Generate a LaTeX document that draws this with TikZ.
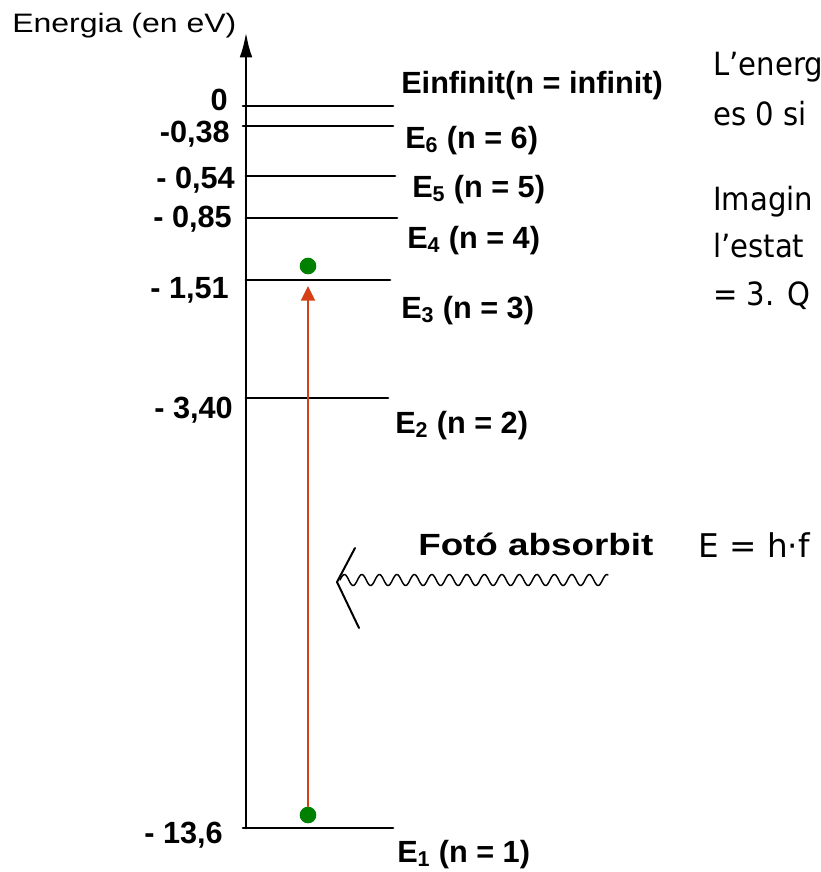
\documentclass[tikz,border=0pt]{standalone}
\usepackage{fontspec}
\setmainfont{Liberation Sans}
\newfontfamily\tahoma{DejaVu Sans}
\usetikzlibrary{arrows.meta}

\definecolor{salt}{RGB}{214,64,22}
\definecolor{electro}{RGB}{0,128,0}
\newcommand{\ample}[1]{\scalebox{1.2}[1]{#1}}
\newcommand{\estret}[1]{\scalebox{0.91}[1]{#1}}

\tikzset{
	nivell/.style={line width=2.2pt},
	valor/.style={font=\bfseries\fontsize{23}{27}\selectfont, anchor=base east, inner sep=0pt},
	estat/.style={font=\bfseries\fontsize{23}{27}\selectfont, anchor=base west, inner sep=0pt},
	frase/.style={font=\tahoma\fontsize{24}{28}\selectfont, anchor=base west, inner sep=0pt},
	punt/.style={circle, fill=electro, minimum size=12.5pt, inner sep=0pt}
}

\begin{document}
\begin{tikzpicture}[x=0.75pt, y=-0.75pt, line join=round, line cap=round]
	\useasboundingbox (0,0) rectangle (821,872);
	
	% Eix d'energia
	\coordinate (O) at (246,828);
	\coordinate (T) at (246,32);
	\draw[line width=2.2pt, -{Latex[length=19pt,width=9.5pt]}] (O)--(T);
	\node[anchor=base west, inner sep=0pt, font=\fontsize{20}{24}\selectfont] (eix) at (12,32) {\ample{Energia (en eV)}};
	
	% Nivells
	\foreach \n/\y/\xa/\xb in {
		0/106/243/393, 6/126/243/393, 5/176/246/395, 4/218/246/397,
		3/280/246/390, 2/398/246/388, 1/828/243/393
	}{
		\coordinate (a\n) at (\xa,\y);
		\coordinate (b\n) at (\xb,\y);
		\draw[nivell] (a\n)--(b\n);
	}
	
	% Valors a l'esquerra
	\foreach \n/\t/\x/\y in {
		0/0/228/110, 6/{-0,38}/230/142, 5/{- 0,54}/235/188, 4/{- 0,85}/232/227,
		3/{- 1,51}/229/298, 2/{- 3,40}/233/418, 1/{- 13,6}/223/843
	}{
		\node[valor] (v\n) at (\x,\y) {\t};
	}
	
	% Estats a la dreta
	\node[estat] (e0) at (401,93) {Einfinit(n = infinit)};
	\foreach \n/\x/\y in {6/405/148, 5/412/197, 4/407/248, 3/401/318, 2/395/433, 1/397/862}{
		\node[estat] (e\n) at (\x,\y) {E\textsubscript{\n} (n = \n)};
	}
	
	% Electro i salt
	\node[punt] (d1) at (308,815) {};
	\node[punt] (d3) at (308,266) {};
	\coordinate (p3) at (308,286);
	\draw[salt, line width=1.5pt, -{Triangle[length=11pt,width=10.5pt]}] (d1.north)--(p3);
	
	% Foto
	\coordinate (fv) at (337,582);
	\coordinate (fu) at (355,548);
	\coordinate (fd) at (359,628);
	\draw[line width=1.1pt] plot[domain=0:268, samples=320, smooth] ({340+\x}, {580-5.5*sin(\x/17.5*360)});
	\draw[line width=1.5pt] (fu)--(fv)--(fd);
	\node[anchor=base west, inner sep=0pt, font=\bfseries\fontsize{23}{27}\selectfont] (foto) at (418,555) {\ample{Fotó absorbit}};
	\node[frase, font=\tahoma\fontsize{24.5}{28}\selectfont] (hf) at (698,557) {E = h·f};
	
	% Text de la dreta
	\foreach \t/\y in {L’energ/75, es 0 si/125, Imagin/210, l’estat/257, = 3. Q/305}{
		\node[frase] at (713,\y) {\estret{\t}};
	}
\end{tikzpicture}
\end{document}
